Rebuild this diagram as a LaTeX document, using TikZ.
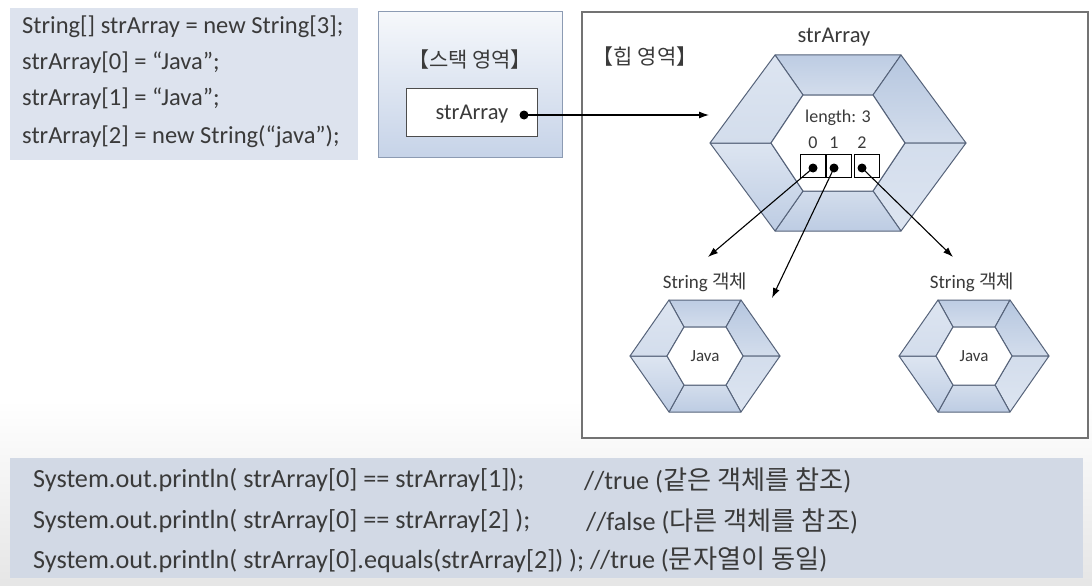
\documentclass[tikz,border=0pt]{standalone}
\usepackage{fontspec}
\setmainfont{Carlito}
\newfontfamily\krfont{Noto Sans CJK KR}
\usetikzlibrary{positioning, arrows.meta, calc}

\definecolor{codebg}{HTML}{DDE3EE}
\definecolor{codebgB}{HTML}{D2D9E5}
\definecolor{codetext}{HTML}{3A3A3A}
\definecolor{hexline}{HTML}{56637A}
\definecolor{hexA}{HTML}{BDCCE3}
\definecolor{hexB}{HTML}{D3DDEC}
\definecolor{hexC}{HTML}{B5C6DF}
\definecolor{hexD}{HTML}{DDE5F1}
\definecolor{stackline}{HTML}{8C9BB3}
\definecolor{stacktop}{HTML}{F6F8FB}
\definecolor{stackbot}{HTML}{C6D3E8}

\newcommand{\kr}[1]{{\krfont #1}}

% hexagon object: name, cx, cy, outer a, b, h, inner a, b, h
\newcommand{\hexobj}[9]{%
  \coordinate (#1o1) at (#2-#4,#3);
  \coordinate (#1o2) at (#2-#5,#3-#6);
  \coordinate (#1o3) at (#2+#5,#3-#6);
  \coordinate (#1o4) at (#2+#4,#3);
  \coordinate (#1o5) at (#2+#5,#3+#6);
  \coordinate (#1o6) at (#2-#5,#3+#6);
  \coordinate (#1i1) at (#2-#7,#3);
  \coordinate (#1i2) at (#2-#8,#3-#9);
  \coordinate (#1i3) at (#2+#8,#3-#9);
  \coordinate (#1i4) at (#2+#7,#3);
  \coordinate (#1i5) at (#2+#8,#3+#9);
  \coordinate (#1i6) at (#2-#8,#3+#9);
  \shade[face, top color=hexA, bottom color=hexB] (#1o2)--(#1o3)--(#1i3)--(#1i2)--cycle;
  \shade[face, top color=hexC, bottom color=hexB] (#1o3)--(#1o4)--(#1i4)--(#1i3)--cycle;
  \shade[face, top color=hexB, bottom color=hexD] (#1o4)--(#1o5)--(#1i5)--(#1i4)--cycle;
  \shade[face, top color=hexB, bottom color=hexA] (#1o5)--(#1o6)--(#1i6)--(#1i5)--cycle;
  \shade[face, top color=hexD, bottom color=hexA] (#1o6)--(#1o1)--(#1i1)--(#1i6)--cycle;
  \shade[face, top color=hexD, bottom color=hexB] (#1o1)--(#1o2)--(#1i2)--(#1i1)--cycle;
  \filldraw[face, fill=white] (#1i1)--(#1i2)--(#1i3)--(#1i4)--(#1i5)--(#1i6)--cycle;
}

\begin{document}
\begin{tikzpicture}[
  x=1pt, y=-1pt,
  >={Latex[length=10pt, width=7pt]},
  every node/.style={text=codetext},
  code/.style ={font=\fontsize{24.5}{28}\selectfont, anchor=west, inner sep=0pt},
  big/.style  ={font=\fontsize{26.2}{30}\selectfont, anchor=west, inner sep=0pt},
  lbl/.style  ={font=\fontsize{21}{24}\selectfont, inner sep=0pt},
  small/.style={font=\fontsize{18}{21}\selectfont, inner sep=0pt},
  face/.style ={draw=hexline, line width=1pt, line join=round},
  cell/.style ={draw=black, line width=0.9pt, fill=white, minimum width=25pt, minimum height=23pt, inner sep=0pt},
  dot/.style  ={circle, fill=black, inner sep=0pt, minimum size=9pt},
  arr/.style  ={->, line width=1.1pt, black},
]
  \useasboundingbox (0,0) rectangle (1092,586);
  \fill[white] (0,0) rectangle (1092,586);
  \shade[top color=white, bottom color=black!10] (0,400) rectangle (1092,586);

  % source code
  \fill[codebg] (10,8) rectangle (358,160);
  \node[code] (l1) at (22,27)  {String[] strArray = new String[3];};
  \node[code] (l2) at (22,63)  {strArray[0] = “Java”;};
  \node[code] (l3) at (22,99)  {strArray[1] = “Java”;};
  \node[code] (l4) at (22,137) {strArray[2] = new String(“java”);};

  % stack area
  \shade[draw=stackline, line width=1pt, top color=stacktop, bottom color=stackbot] (378,12) rectangle (562,157);
  \node[lbl] (stk) at (470,60) {\kr{【스택 영역】}};
  \node[draw=black!70, line width=0.9pt, fill=white, minimum width=131pt, minimum height=48pt] (var) at (472,112) {};
  \node[code, anchor=center, font=\fontsize{22.5}{26}\selectfont] (vname) at (472,114) {strArray};
  \node[dot] (sd) at (524,115) {};

  % heap area
  \draw[black!55, line width=1.4pt, fill=white] (582,12) rectangle (1088,438);
  \node[lbl] (heap) at (645,57) {\kr{【힙 영역】}};
  \node[lbl, font=\fontsize{22.5}{26}\selectfont] (aname) at (834,37) {strArray};
  \hexobj{arr}{838}{143}{128}{63}{88}{67}{35}{48}
  \node[small] (len) at (838,118) {length: 3};
  \node[cell] (c0) at (813,166) {};
  \node[cell, right=0pt of c0] (c1) {};
  \node[cell, right=2pt of c1] (c2) {};
  \foreach \n/\x/\d in {0/813/d0, 1/834/d1, 2/862/d2}{
    \node[small] (idx\n) at (\x,143) {\n};
    \node[dot] (\d) at (\x,168) {};
  }

  \hexobj{sa}{705}{356}{75}{36}{56}{38}{21}{29}
  \hexobj{sb}{974}{356}{75}{36}{56}{38}{21}{29}
  \node[small, font=\fontsize{19}{22}\selectfont] (sal) at (705,282) {String \kr{객체}};
  \node[small, font=\fontsize{19}{22}\selectfont] (sbl) at (972,282) {String \kr{객체}};
  \node[small, font=\fontsize{17}{20}\selectfont] (jva) at (705,356) {Java};
  \node[small, font=\fontsize{17}{20}\selectfont] (jvb) at (974,356) {Java};

  % references
  \coordinate (hin) at (709,115);
  \coordinate (tA) at (708,257);
  \coordinate (tB) at (772,298);
  \coordinate (tC) at (953,257);
  \draw[arr] (sd.center) -- (hin);
  \draw[arr] (d0.center) -- (tA);
  \draw[arr] (d1.center) -- (tB);
  \draw[arr] (d2.center) -- (tC);

  % comparisons
  \fill[codebgB] (10,458) rectangle (1083,578);
  \node[big] (p1) at (33,480) {System.out.println( strArray[0] == strArray[1]);};
  \node[big] (p2) at (33,521) {System.out.println( strArray[0] == strArray[2] );};
  \node[big] (p3) at (33,560) {System.out.println( strArray[0].equals(strArray[2]) ); //true (\kr{문자열이 동일})};
  \node[big] (r1) at (584,480) {//true (\kr{같은 객체를 참조})};
  \node[big] (r2) at (586,521) {//false (\kr{다른 객체를 참조})};
\end{tikzpicture}
\end{document}
